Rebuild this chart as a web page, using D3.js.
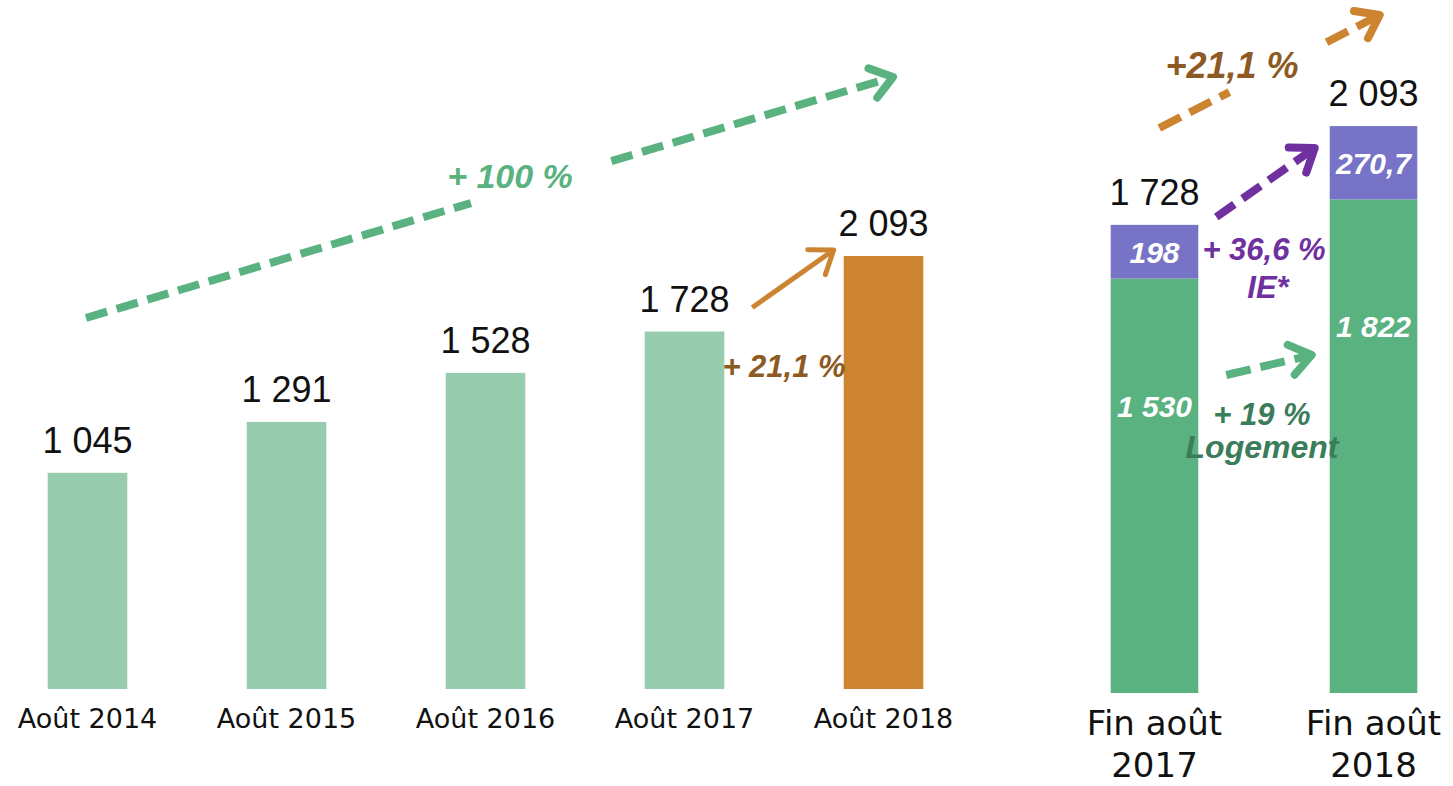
<!DOCTYPE html>
<html>
<head>
<meta charset="utf-8">
<script src="https://cdn.jsdelivr.net/npm/d3@7"></script>
<style>
  body { margin: 0; background: #fff; }
  svg { display: block; }
</style>
</head>
<body>
<div id="chart"></div>
<script>
// left chart: totals by year
const years = ["Août 2014", "Août 2015", "Août 2016", "Août 2017", "Août 2018"];
const totals = [1045, 1291, 1528, 1728, 2093];
const totalLabels = ["1 045", "1 291", "1 528", "1 728", "2 093"];

// right chart: split Logement / IE*
const periods = ["Fin août 2017", "Fin août 2018"];
const logement = [1530, 1822];
const ie = [198, 270.7];
const logementLabels = ["1 530", "1 822"];
const ieLabels = ["198", "270,7"];
const periodTotals = ["1 728", "2 093"];

const W = 1453, H = 786;
const lightGreen = "#97cdae", orange = "#cc8431", green = "#59b280", purple = "#7774c7";
const brown = "#8d5a24", darkPurple = "#7030a0", darkGreen = "#3b7d5a";
const labelFont = "'Liberation Sans', Arial, sans-serif";
const axisFont = "'DejaVu Sans', sans-serif";

const svg = d3.select("#chart")
    .append("svg")
        .attr("width", W)
        .attr("height", H);

// arrow helper (line from a to b, chevron head at b)
const arrow = (x1, y1, x2, y2, colour, width, dash, gaps) => {
    const g = svg.append("g")
        .attr("stroke", colour)
        .attr("stroke-width", width)
        .attr("fill", "none");
    const pt = t => [x1 + (x2 - x1) * t, y1 + (y2 - y1) * t];
    const parts = gaps || [[0, 1]];
    parts.forEach(([a, b]) => {
        const p = pt(a), q = pt(b);
        g.append("line")
            .attr("x1", p[0]).attr("y1", p[1])
            .attr("x2", q[0]).attr("y2", q[1])
            .attr("stroke-dasharray", dash || null);
    });
    const ang = Math.atan2(y2 - y1, x2 - x1), L = 26, spread = Math.PI / 5;
    const head = [ang + Math.PI - spread, ang + Math.PI + spread]
        .map(a => [x2 + L * Math.cos(a), y2 + L * Math.sin(a)]);
    g.append("path")
        .attr("d", `M${head[0][0]},${head[0][1]}L${x2},${y2}L${head[1][0]},${head[1][1]}`)
        .attr("stroke-linecap", "round")
        .attr("stroke-linejoin", "round");
};

const note = (x, y, txt, colour, size) => svg.append("text")
    .attr("x", x)
    .attr("y", y)
    .attr("text-anchor", "middle")
    .style("font-family", labelFont)
    .style("font-weight", "bold")
    .style("font-style", "italic")
    .style("font-size", `${size}px`)
    .style("fill", colour)
    .text(txt);

// ---------- left chart ----------
const xL = d3.scaleBand()
    .domain(years)
    .range([-12, 983])
    .paddingInner(0.6)
    .paddingOuter(0.3);

const yL = d3.scaleLinear()
    .domain([0, 2093])
    .range([689, 256]);

svg.append("g")
    .selectAll("rect")
    .data(years)
    .join("rect")
        .attr("x", d => xL(d))
        .attr("y", (d, i) => yL(totals[i]))
        .attr("width", xL.bandwidth())
        .attr("height", (d, i) => yL(0) - yL(totals[i]))
        .attr("fill", (d, i) => i === years.length - 1 ? orange : lightGreen);

svg.append("g")
    .selectAll("text")
    .data(years)
    .join("text")
        .attr("x", d => xL(d) + xL.bandwidth() / 2)
        .attr("y", (d, i) => yL(totals[i]) - 20)
        .attr("text-anchor", "middle")
        .style("font-family", labelFont)
        .style("font-size", "36px")
        .style("fill", "#111")
        .text((d, i) => totalLabels[i]);

const xAxisL = svg.append("g")
    .attr("transform", `translate(0,${yL(0)})`)
    .call(d3.axisBottom(xL).tickSize(0).tickPadding(20));
xAxisL.select(".domain").remove();
xAxisL.selectAll("text")
    .style("font-family", axisFont)
    .style("font-size", "27px")
    .style("fill", "#111");

// +100 % dashed arrow
arrow(86, 318, 893, 77, green, 8, "22 10", [[0, 0.477], [0.651, 1]]);
note(510, 188, "+ 100 %", green, 34);

// +21,1 % arrow between 2017 and 2018
const x17 = xL("Août 2017") + xL.bandwidth(), x18 = xL("Août 2018");
arrow(x17 + 28, yL(totals[3]) - 24, x18 - 10, yL(totals[4]) - 6, orange, 5);
note((x17 + x18) / 2, 377, "+ 21,1 %", brown, 31);

// ---------- right chart ----------
const xR = d3.scaleBand()
    .domain(periods)
    .range([1045, 1483])
    .paddingInner(0.6)
    .paddingOuter(0.3);

const yR = d3.scaleLinear()
    .domain([0, 2093])
    .range([693, 126]);

const stacked = d3.stack().keys(["logement", "ie"])(
    periods.map((p, i) => ({ period: p, logement: logement[i], ie: ie[i] }))
);
const segColours = [green, purple];

svg.append("g")
    .selectAll("g")
    .data(stacked)
    .join("g")
        .attr("fill", (d, i) => segColours[i])
    .selectAll("rect")
    .data(d => d)
    .join("rect")
        .attr("x", d => xR(d.data.period))
        .attr("y", d => yR(d[1]))
        .attr("width", xR.bandwidth())
        .attr("height", d => yR(d[0]) - yR(d[1]));

// segment labels
periods.forEach((p, i) => {
    const cx = xR(p) + xR.bandwidth() / 2;
    const top = yR(logement[i] + ie[i]);
    const mid = (yR(logement[i]) + top) / 2;
    note(cx, mid + 11, ieLabels[i], "#fff", 30);
    note(cx, yR(logement[i]) + 138, logementLabels[i], "#fff", 30);
    svg.append("text")
        .attr("x", cx)
        .attr("y", top - 20)
        .attr("text-anchor", "middle")
        .style("font-family", labelFont)
        .style("font-size", "36px")
        .style("fill", "#111")
        .text(periodTotals[i]);
});

const xAxisR = svg.append("g")
    .attr("transform", `translate(0,${yR(0)})`)
    .call(d3.axisBottom(xR).tickSize(0).tickPadding(0));
xAxisR.select(".domain").remove();
xAxisR.selectAll("text")
    .text(null)
    .attr("dy", null)
    .style("font-family", axisFont)
    .style("font-size", "34px")
    .style("fill", "#111")
    .selectAll("tspan")
    .data(d => [d.slice(0, 8), d.slice(9)])
    .join("tspan")
        .attr("x", 0)
        .attr("y", (d, i) => 42 + i * 42)
        .text(d => d);

// right-side arrows and notes
const r17 = xR(periods[0]) + xR.bandwidth(), r18 = xR(periods[1]);
arrow(r17 - 39, 128, r18 + 50, 15, orange, 8, "24 10", [[0, 0.318], [0.759, 1]]);
note(1232, 78, "+21,1 %", brown, 36);

arrow(r17 + 18, 217, r18 - 15, 148, darkPurple, 8, "22 10");
note(1264, 260, "+ 36,6 %", darkPurple, 31);
note(1268, 298, "IE*", darkPurple, 31);

arrow(r17 + 28, 375, r18 - 18, 355, green, 8, "25 10");
note(1262, 425, "+ 19 %", darkGreen, 31);
note(1262, 458, "Logement", darkGreen, 32);
</script>
</body>
</html>
